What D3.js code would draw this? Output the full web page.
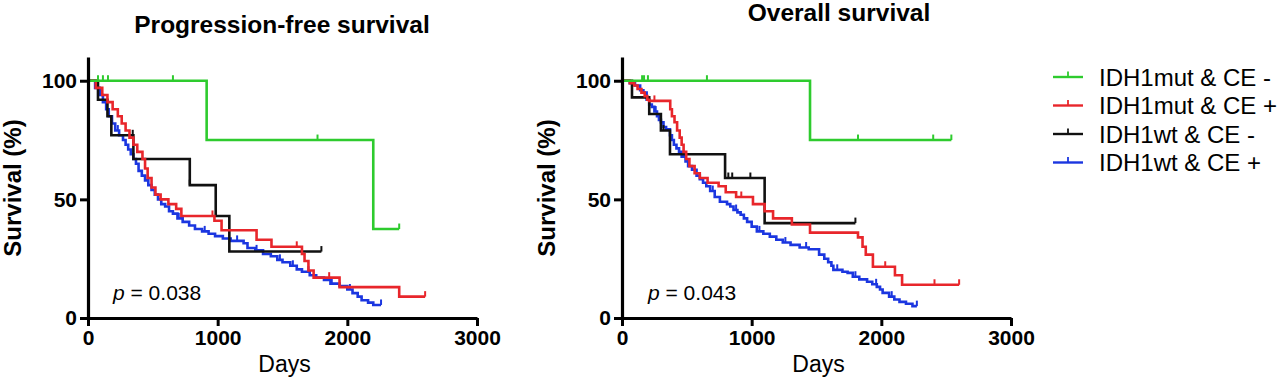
<!DOCTYPE html>
<html>
<head>
<meta charset="utf-8">
<script src="https://cdn.jsdelivr.net/npm/d3@7"></script>
<style>
  html, body { margin: 0; padding: 0; background: #fff; }
  svg { display: block; font-family: "Liberation Sans", Arial, Helvetica, sans-serif; }
</style>
</head>
<body>
<svg id="chart" width="1280" height="382"></svg>
<script>
// ---------- DATA ----------
const groups = ["IDH1mut & CE -", "IDH1mut & CE +", "IDH1wt & CE -", "IDH1wt & CE +"];
const groupColors = ["#2ecb2e", "#e8262b", "#111111", "#1b36e0"];
const xTicks = [0, 1000, 2000, 3000];
const yTicks = [0, 50, 100];

// Progression-free survival: [day, survival %] step points, last point = end of follow-up
const pfsMutNeg = [[0,100],[915,75],[2200,37.5],[2400,37.5]];
const pfsMutPos = [[0,100],[60,97],[110,94],[150,91],[190,88],[230,85],[260,82],[290,79],[320,76],[350,73],[380,70],[420,67],[440,63],[460,59],[490,55],[520,52],[560,50],[620,48],[680,46],[720,43],[975,41],[1030,37],[1300,33],[1415,30],[1650,27],[1670,24],[1700,20],[1740,17],[1940,13],[2400,9],[2600,9]];
const pfsWtNeg = [[0,100],[77,92],[150,85],[180,77],[350,67],[785,56],[985,43],[1090,28],[1800,28]];
const pfsWtPos = [[0,100],[55,97],[90,94],[115,91],[140,88],[160,85],[185,82],[210,79],[240,77],[270,75],[290,73],[310,71],[330,69],[350,67],[370,65],[390,62],[415,60],[440,58],[465,56],[490,54],[515,52],[540,50],[565,48],[595,47],[625,45],[655,44],[690,42],[730,40.5],[780,39],[825,37.5],[880,36.5],[930,35.5],[980,34.5],[1040,33.5],[1100,32.5],[1200,31.5],[1230,29.5],[1290,28.5],[1350,27],[1410,26],[1460,24.5],[1500,23.5],[1560,22],[1610,20.5],[1650,19.5],[1710,18],[1760,17],[1820,16],[1870,14.5],[1940,13.5],[2000,12],[2040,10.5],[2080,9],[2110,7.5],[2160,6.5],[2200,5.5],[2260,5.5]];

const pfsCensorMutNeg = [77, 115, 154, 655, 1770, 2400];
const pfsCensorMutPos = [960, 1610, 1860, 2600];
const pfsCensorWtNeg = [345, 785, 1800];
const pfsCensorWtPos = [230, 460, 700, 900, 1150, 1300, 1480, 1580, 1700, 1880, 2020, 2260];

// Overall survival
const osMutNeg = [[0,100],[1450,75],[2540,75]];
const osMutPos = [[0,100],[60,99],[95,98],[120,96.5],[150,95],[175,93.5],[195,92],[210,91.5],[372,88],[385,85],[405,82.5],[425,79],[445,76],[460,73],[475,70],[495,67],[520,64],[560,61],[600,59],[660,57],[745,55.5],[800,53],[880,51],[1010,48],[1100,45],[1165,42],[1310,39.4],[1450,36],[1820,34],[1855,30],[1880,26.7],[1935,21.6],[2105,18],[2160,14],[2600,14]];
const osWtNeg = [[0,100],[77,93],[210,86],[300,79],[370,69],[795,59],[1100,40],[1800,40]];
const osWtPos = [[0,100],[60,99],[100,98],[140,96],[165,95],[190,92],[210,90],[230,89],[250,87],[270,85],[285,83.5],[300,82.5],[320,80.5],[340,79.5],[370,77],[385,75],[400,73],[420,71.5],[440,70],[460,68],[490,66],[510,64],[540,62.5],[575,60],[600,58.5],[625,57],[650,55.5],[680,53.5],[715,51],[755,49],[810,48],[835,47],[860,45.5],[890,44.5],[915,43.5],[940,42],[965,40.5],[1000,38.5],[1040,36.5],[1090,35.5],[1140,34.3],[1190,33],[1240,31.8],[1300,30.8],[1370,29.7],[1440,29],[1520,26.7],[1560,25],[1590,23.5],[1615,22],[1630,20.3],[1700,19.5],[1740,19],[1780,17.4],[1830,16.3],[1890,15.3],[1930,14.2],[1965,13.1],[1990,12],[2010,10.6],[2060,9],[2100,7.8],[2140,6.8],[2190,6],[2240,5],[2274,5]];

const osCensorMutNeg = [155, 170, 200, 655, 1820, 2400, 2540];
const osCensorMutPos = [250, 920, 2030, 2410, 2600];
const osCensorWtNeg = [320, 820, 850, 990, 1800];
const osCensorWtPos = [260, 480, 700, 880, 1060, 1260, 1420, 1660, 1800, 1960, 2080, 2274];

// ---------- DRAWING ----------
const svg = d3.select("#chart");
const FONT = "'Liberation Sans', Arial, Helvetica, sans-serif";

function survivalAt(steps, t) {
  let s = steps[0][1];
  for (const p of steps) { if (p[0] <= t) s = p[1]; else break; }
  return s;
}

function panel(cfg) {
  const x = d3.scaleLinear().domain([0, 3000]).range([cfg.x0, cfg.x1]);
  const y = d3.scaleLinear().domain([0, 110]).range([318, 57]);
  const g = svg.append("g");

  const order = [3, 2, 1, 0];
  const line = d3.line().x(d => x(d[0])).y(d => y(d[1])).curve(d3.curveStepAfter);
  order.forEach(i => {
    g.append("path").datum(cfg.series[i])
      .attr("d", line)
      .attr("fill", "none")
      .attr("stroke", groupColors[i])
      .attr("stroke-width", 2.6)
      .attr("stroke-linejoin", "miter");
    g.selectAll(null).data(cfg.censors[i]).enter().append("line")
      .attr("x1", d => x(d)).attr("x2", d => x(d))
      .attr("y1", d => y(survivalAt(cfg.series[i], d)))
      .attr("y2", d => y(survivalAt(cfg.series[i], d)) - 5.5)
      .attr("stroke", groupColors[i]).attr("stroke-width", 2);
  });

  const fmt = d3.format("d");
  const yAxis = d3.axisLeft(y).tickValues(yTicks).tickFormat(fmt).tickSize(8).tickSizeOuter(0).tickPadding(3);
  const ya = g.append("g").attr("transform", `translate(${cfg.x0},0)`).call(yAxis);
  const xAxis = d3.axisBottom(x).tickValues(xTicks).tickFormat(fmt).tickSize(8).tickSizeOuter(0).tickPadding(4);
  const xa = g.append("g").attr("transform", `translate(0,318)`).call(xAxis);
  [ya, xa].forEach(a => {
    a.select(".domain").attr("stroke", "#000").attr("stroke-width", 3.2);
    a.selectAll(".tick line").attr("stroke", "#000").attr("stroke-width", 3);
    a.selectAll(".tick text").attr("fill", "#000")
      .style("font-family", FONT).style("font-size", "21px").style("font-weight", "bold");
  });

  g.append("text").attr("x", cfg.titleX).attr("y", cfg.titleY)
    .attr("text-anchor", "middle").style("font-family", FONT)
    .style("font-size", "24.5px").style("font-weight", "bold").text(cfg.title);
  g.append("text").attr("transform", `translate(${cfg.yTitleX},188) rotate(-90)`)
    .attr("text-anchor", "middle").style("font-family", FONT)
    .style("font-size", "24px").style("font-weight", "bold").text("Survival (%)");
  g.append("text").attr("x", (cfg.x0 + cfg.x1) / 2 + 2).attr("y", 372)
    .attr("text-anchor", "middle").style("font-family", FONT)
    .style("font-size", "23px").text("Days");

  const pt = g.append("text").attr("x", cfg.pX).attr("y", 300)
    .style("font-family", FONT).style("font-size", "21px");
  pt.append("tspan").style("font-style", "italic").text("p");
  pt.append("tspan").text(" = " + cfg.p);
}

panel({
  x0: 88, x1: 477, title: "Progression-free survival", titleX: 282, titleY: 33,
  yTitleX: 21, pX: 113, p: "0.038",
  series: [pfsMutNeg, pfsMutPos, pfsWtNeg, pfsWtPos],
  censors: [pfsCensorMutNeg, pfsCensorMutPos, pfsCensorWtNeg, pfsCensorWtPos]
});
panel({
  x0: 622, x1: 1011, title: "Overall survival", titleX: 839, titleY: 21,
  yTitleX: 555, pX: 648, p: "0.043",
  series: [osMutNeg, osMutPos, osWtNeg, osWtPos],
  censors: [osCensorMutNeg, osCensorMutPos, osCensorWtNeg, osCensorWtPos]
});

const leg = svg.append("g");
groups.forEach((name, i) => {
  const cy = 77 + i * 28.5;
  leg.append("line").attr("x1", 1053).attr("x2", 1083).attr("y1", cy).attr("y2", cy)
    .attr("stroke", groupColors[i]).attr("stroke-width", 2.4);
  leg.append("line").attr("x1", 1068).attr("x2", 1068).attr("y1", cy).attr("y2", cy - 5.5)
    .attr("stroke", groupColors[i]).attr("stroke-width", 1.8);
  leg.append("text").attr("x", 1099).attr("y", cy + 8.5)
    .style("font-family", FONT).style("font-size", "24px").text(name);
});
</script>
</body>
</html>
